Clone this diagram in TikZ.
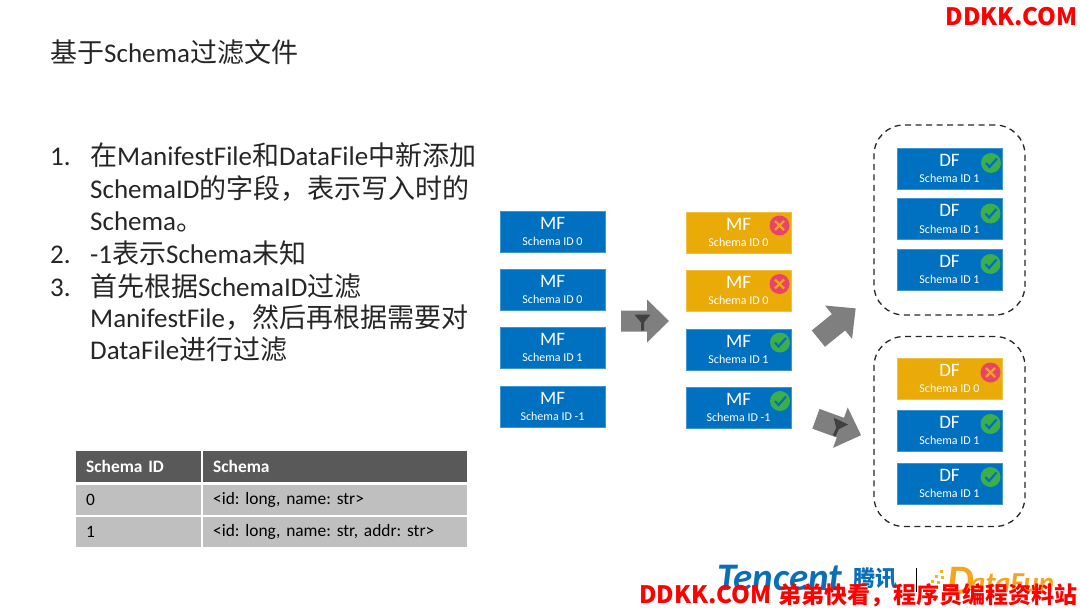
\documentclass[tikz,border=0pt]{standalone}
\usepackage{fontspec}
\setmainfont{Carlito}
\newfontfamily\cjk{Noto Sans CJK SC}
\newcommand{\zh}[1]{{\cjk #1}}
\newcommand{\fs}[1]{\fontsize{#1}{#1}\selectfont}
\newcommand{\filetext}[2]{{\fs{19}#1}\\[4.5pt]{\fs{12}#2}}
\definecolor{fileblue}{HTML}{0070C0}
\definecolor{fileamber}{HTML}{EAAB08}
\definecolor{okgreen}{HTML}{3CAF4B}
\definecolor{nored}{HTML}{E8436A}
\definecolor{arrowgray}{HTML}{7F7F7F}
\definecolor{headgray}{HTML}{595959}
\definecolor{rowgray}{HTML}{BFBFBF}
\definecolor{titlegray}{HTML}{262626}
\definecolor{tencentblue}{HTML}{0B6FB8}
\definecolor{funorange}{HTML}{F4A51C}
\tikzset{
  filebox/.style={rectangle, draw=#1!75!white, line width=.5pt, fill=#1, text=white, inner sep=0pt,
    minimum width=105pt, minimum height=41pt, align=center},
  okfile/.style={filebox=fileblue},
  nofile/.style={filebox=fileamber},
  groupbox/.style={rectangle, draw=black!85, line width=1.3pt, dash pattern=on 6pt off 4.5pt,
    rounded corners=30pt, minimum width=151pt, minimum height=190pt},
  listline/.style={anchor=base west, inner sep=0pt, text=titlegray, font=\fs{27}},
  cell/.style={rectangle, inner sep=0pt, minimum height=30pt, text width=#1, align=left, font=\fs{17.4}\frenchspacing},
  blockarrow/.pic={
    \fill[arrowgray] (-24,-10.5) -- (2,-10.5) -- (2,-21.5) -- (24,0) -- (2,21.5) -- (2,10.5) -- (-24,10.5) -- cycle;
  },
  okmark/.pic={
    \fill[okgreen] (0,0) circle (10pt);
    \draw[fileblue, line width=2.2pt] (-5,0) -- (-1.5,4) -- (6,-4.5);
  },
  nomark/.pic={
    \fill[nored] (0,0) circle (10pt);
    \draw[fileamber, line width=2.2pt] (-4.5,-4.5) -- (4.5,4.5) (-4.5,4.5) -- (4.5,-4.5);
  },
  funnelmark/.pic={
    \fill[black!75] (-8,-7) -- (8,-7) -- (1.5,1) -- (1.5,9) -- (-1.5,9) -- (-1.5,1) -- cycle;
  },
  dotmark/.pic={
    \fill[funorange!80!yellow] (-1.5,-1.5) rectangle (1.5,1.5);
  }
}
\begin{document}
\begin{tikzpicture}[x=1pt, y=-1pt]
  \useasboundingbox (0,0) rectangle (1080,608);

  \node[listline] (title) at (50,62) {\zh{基于}Schema\zh{过滤文件}};

  % numbered list
  \node[listline] (n1) at (50,165) {1.};
  \node[listline] (l1) at (90,165) {\zh{在}ManifestFile\zh{和}DataFile\zh{中新添加}};
  \node[listline] (l2) at (90,198) {SchemaID\zh{的字段，表示写入时的}};
  \node[listline] (l3) at (90,230) {Schema\zh{。}};
  \node[listline] (n2) at (50,263) {2.};
  \node[listline] (l4) at (90,263) {-1\zh{表示}Schema\zh{未知}};
  \node[listline] (n3) at (50,296) {3.};
  \node[listline] (l5) at (90,296) {\zh{首先根据}SchemaID\zh{过滤}};
  \node[listline] (l6) at (90,327) {ManifestFile\zh{，然后再根据需要对}};
  \node[listline] (l7) at (90,359) {DataFile\zh{进行过滤}};

  % schema table
  \node[cell=125pt, fill=headgray, text=white, font=\fs{17.4}\bfseries\frenchspacing, minimum height=31pt, anchor=north west] (h1) at (76,451) {\hspace{10pt}Schema ID};
  \node[cell=264pt, fill=headgray, text=white, font=\fs{17.4}\bfseries\frenchspacing, minimum height=31pt, anchor=north west] (h2) at (203,451) {\hspace{10pt}Schema};
  \node[cell=125pt, fill=rowgray, anchor=north west] (a1) at (76,485) {\hspace{10pt}0};
  \node[cell=264pt, fill=rowgray, anchor=north west] (a2) at (203,485) {\hspace{10pt}<id: long, name: str>};
  \node[cell=125pt, fill=rowgray, anchor=north west] (b1) at (76,517) {\hspace{10pt}1};
  \node[cell=264pt, fill=rowgray, anchor=north west] (b2) at (203,517) {\hspace{10pt}<id: long, name: str, addr: str>};

  % manifest files before the filter
  \node[okfile] (mfa) at (552.5,231.5) {\filetext{MF}{Schema ID 0}};
  \node[okfile] (mfb) at (552.5,289.5) {\filetext{MF}{Schema ID 0}};
  \node[okfile] (mfc) at (552.5,347.5) {\filetext{MF}{Schema ID 1}};
  \node[okfile] (mfd) at (552.5,406.5) {\filetext{MF}{Schema ID -1}};

  % manifest files after the filter
  \node[nofile] (mfe) at (738.5,232.5) {\filetext{MF}{Schema ID 0}};
  \node[nofile] (mff) at (738.5,290.5) {\filetext{MF}{Schema ID 0}};
  \node[okfile] (mfg) at (738.5,349.5) {\filetext{MF}{Schema ID 1}};
  \node[okfile] (mfh) at (738.5,407.5) {\filetext{MF}{Schema ID -1}};
  \pic at (779.5,225.5) {nomark};
  \pic at (779.5,284) {nomark};
  \pic at (780,342.5) {okmark};
  \pic at (780,401) {okmark};

  % data files
  \node[groupbox] (groupa) at (949.5,220) {};
  \node[groupbox] (groupb) at (949.5,431.5) {};
  \node[okfile] (dfa) at (949.5,168.5) {\filetext{DF}{Schema ID 1}};
  \node[okfile] (dfb) at (949.5,219) {\filetext{DF}{Schema ID 1}};
  \node[okfile] (dfc) at (949.5,269.5) {\filetext{DF}{Schema ID 1}};
  \node[nofile] (dfd) at (949.5,378.5) {\filetext{DF}{Schema ID 0}};
  \node[okfile] (dfe) at (949.5,430.5) {\filetext{DF}{Schema ID 1}};
  \node[okfile] (dff) at (949.5,483.5) {\filetext{DF}{Schema ID 1}};
  \pic at (991,163) {okmark};
  \pic at (990.5,213.5) {okmark};
  \pic at (990.5,264) {okmark};
  \pic at (990.5,372.5) {nomark};
  \pic at (990.5,424) {okmark};
  \pic at (990.5,477) {okmark};

  % block arrows
  \pic at (645,321) {blockarrow};
  \pic[rotate=39] at (837,323.5) {blockarrow};
  \pic[rotate=-20] at (838.5,427) {blockarrow};
  \pic at (642.5,321.5) {funnelmark};
  \pic[rotate=-25] at (838,427.5) {funnelmark};

  % logos
  \node[anchor=base west, inner sep=0pt, text=tencentblue, font=\fs{39}\bfseries\itshape] (tencent) at (717,590) {Tencent};
  \node[anchor=base west, inner sep=0pt, text=tencentblue, font=\fs{22}\bfseries] (tencentzh) at (853,586) {\zh{腾讯}};
  \draw[black, line width=1pt] (916,568) -- (916,592);
  \pic at (941,571) {dotmark};
  \pic at (936,576) {dotmark};
  \pic at (942,577) {dotmark};
  \pic at (932,581) {dotmark};
  \pic at (938,582) {dotmark};
  \node[anchor=base west, inner sep=0pt, text=funorange, font=\fs{42}\bfseries\itshape] (dataD) at (947,594) {D};
  \node[anchor=base west, inner sep=0pt, text=funorange, font=\fs{29}\bfseries\itshape] (dataFun) at (970,592) {ataFun};

  % watermarks
  \node[anchor=base east, inner sep=0pt, text=red, font=\cjk\bfseries\fs{24}] (marktop) at (1078,25) {DDKK.COM};
  \node[anchor=base west, inner sep=0pt, text=red, font=\cjk\bfseries\fs{24}] (markbot) at (639,603) {DDKK.COM};
  \node[anchor=base east, inner sep=0pt, text=red, font=\cjk\bfseries\fs{23}] (marktext) at (1078,603) {弟弟快看，程序员编程资料站};
\end{tikzpicture}
\end{document}
